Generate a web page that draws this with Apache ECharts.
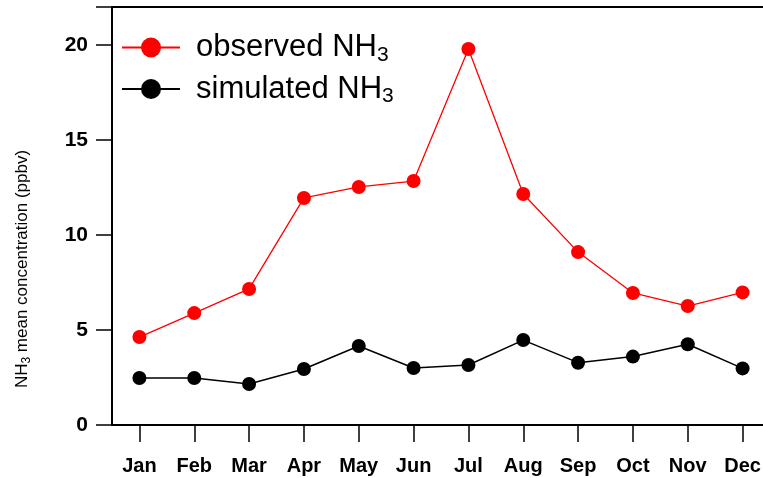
<!DOCTYPE html>
<html>
<head>
<meta charset="utf-8">
<script src="https://cdn.jsdelivr.net/npm/echarts@6/dist/echarts.min.js"></script>
<style>
  html, body { margin: 0; padding: 0; background: #fff; }
  #chart { width: 763px; height: 478px; }
</style>
</head>
<body>
<div id="chart"></div>
<script>
const months = ['Jan', 'Feb', 'Mar', 'Apr', 'May', 'Jun', 'Jul', 'Aug', 'Sep', 'Oct', 'Nov', 'Dec'];
const observed = [4.63, 5.89, 7.16, 11.95, 12.53, 12.84, 19.79, 12.16, 9.1, 6.95, 6.26, 6.98];
const simulated = [2.47, 2.47, 2.16, 2.95, 4.16, 3.0, 3.16, 4.47, 3.28, 3.6, 4.25, 2.98];
const yTicks = [0, 5, 10, 15, 20];

let myChart = echarts.init(document.getElementById('chart'), null, { renderer: 'canvas' });

const fuente = 'Arial, "Liberation Sans", sans-serif';

const opciones = {
  animation: false,
  grid: {
    left: 112, top: 7, right: -7, bottom: 53,
    containLabel: false,
    outerBoundsMode: 'none',
    show: true, borderColor: '#000', borderWidth: 2, backgroundColor: 'transparent'
  },
  legend: {
    orient: 'vertical',
    left: 121,
    top: 32,
    padding: 0,
    itemWidth: 58,
    itemHeight: 25,
    itemGap: 8,
    textStyle: {
      fontFamily: fuente,
      color: '#000',
      padding: [0, 0, 0, 11],
      rich: {
        n: { fontSize: 31, lineHeight: 36, fontFamily: fuente, color: '#000' },
        s: { fontSize: 21, lineHeight: 21, verticalAlign: 'bottom', fontFamily: fuente, color: '#000' }
      }
    },
    formatter: (name) => name === 'observed' ? '{n|observed NH}{s|3}' : '{n|simulated NH}{s|3}',
    data: ['observed', 'simulated']
  },
  xAxis: {
    type: 'category',
    data: months,
    boundaryGap: true,
    axisLine: { show: true, lineStyle: { color: '#000', width: 2 } },
    axisTick: { show: true, alignWithLabel: true, length: 17, lineStyle: { color: '#000', width: 1.5 } },
    axisLabel: { color: '#000', fontSize: 20, fontWeight: 'bold', fontFamily: fuente, margin: 31 },
    splitLine: { show: false }
  },
  yAxis: {
    type: 'value',
    min: 0,
    max: 22,
    interval: 5,
    name: '{n|NH}{s|3}{n| mean concentration (ppbv)}',
    nameLocation: 'middle',
    nameGap: 79,
    nameRotate: 90,
    nameTextStyle: {
      padding: [0, 106, 0, 0],
      rich: {
        n: { fontSize: 17, lineHeight: 22, fontFamily: fuente, color: '#000' },
        s: { fontSize: 12, lineHeight: 12, verticalAlign: 'bottom', fontFamily: fuente, color: '#000' }
      }
    },
    axisLine: { show: true, lineStyle: { color: '#000', width: 2 } },
    axisTick: { show: true, length: 16, lineStyle: { color: '#000', width: 1.5 } },
    axisLabel: {
      color: '#000', fontSize: 21, fontWeight: 'bold', fontFamily: fuente, margin: 24,
      formatter: (v) => yTicks.includes(v) ? String(v) : ''
    },
    splitLine: { show: false }
  },
  series: [
    {
      name: 'observed',
      type: 'line',
      data: observed,
      symbol: 'circle',
      symbolSize: 14,
      lineStyle: { color: '#ff0000', width: 1.3 },
      itemStyle: { color: '#ff0000' }
    },
    {
      name: 'simulated',
      type: 'line',
      data: simulated,
      symbol: 'circle',
      symbolSize: 14,
      lineStyle: { color: '#000', width: 1.5 },
      itemStyle: { color: '#000' }
    }
  ]
};

myChart.setOption(opciones);
</script>
</body>
</html>
